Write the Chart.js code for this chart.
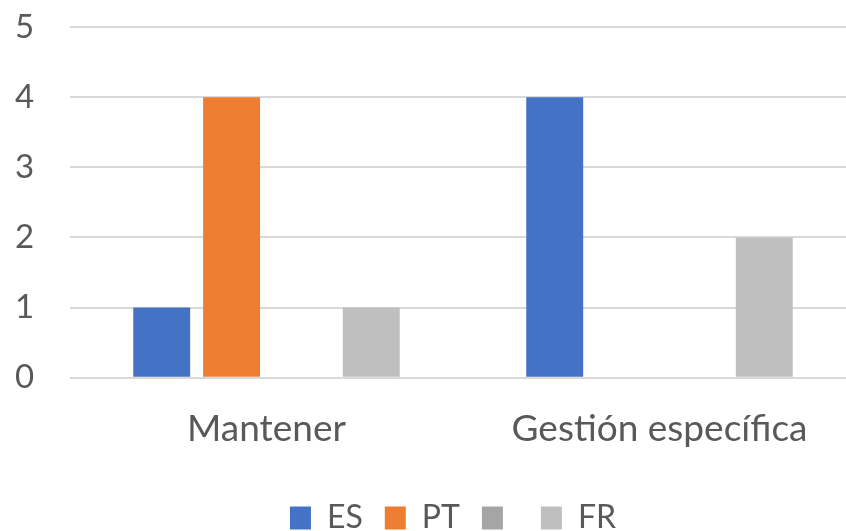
<!DOCTYPE html>
<html>
<head>
<meta charset="utf-8">
<script src="https://cdn.jsdelivr.net/npm/chart.js@4.4.1/dist/chart.umd.min.js"></script>
<style>
    html, body { margin: 0; padding: 0; background: #fff; overflow: hidden; }
    #wrap { width: 906px; height: 531px; }
</style>
</head>
<body>
<div id="wrap"><canvas id="chartCanvas"></canvas></div>
<script>
const categories = ['Mantener', 'Gestión específica'];
const seriesNames = ['ES', 'PT', '', 'FR'];
const esValues = [1, 4];
const ptValues = [4, 0];
const blankValues = [0, 0];
const frValues = [1, 2];
const yTicks = [0, 1, 2, 3, 4, 5];

const seriesColors = ['#4472C4', '#ED7D31', '#A5A5A5', '#BFBFBF'];
const textColor = '#595959';
const fontFamily = 'Lato, "Liberation Sans", sans-serif';

const allValues = [esValues, ptValues, blankValues, frValues];

const datasets = seriesNames.map((name, i) => ({
    label: name,
    data: allValues[i],
    backgroundColor: seriesColors[i],
    borderWidth: 0,
    categoryPercentage: 0.711,
    barPercentage: 0.815
}));

const ctx = document.getElementById('chartCanvas').getContext('2d');

new Chart(ctx, {
    type: 'bar',
    data: {
        labels: categories,
        datasets: datasets
    },
    options: {
        responsive: true,
        maintainAspectRatio: false,
        animation: false,
        layout: {
            padding: { top: 27, left: 50, right: 50, bottom: -13 }
        },
        plugins: {
            legend: {
                display: true,
                position: 'bottom',
                labels: {
                    color: textColor,
                    font: { family: fontFamily, size: 32 },
                    boxWidth: 21,
                    boxHeight: 23,
                    padding: 22
                }
            },
            tooltip: { enabled: false }
        },
        scales: {
            x: {
                grid: { display: false, drawTicks: false },
                border: { display: false },
                ticks: {
                    color: textColor,
                    font: { family: fontFamily, size: 37, lineHeight: 1.36 },
                    padding: 26
                }
            },
            y: {
                min: 0,
                max: 5,
                afterBuildTicks: axis => {
                    axis.ticks = yTicks.map(v => ({ value: v }));
                },
                afterFit: axis => {
                    axis.width = 20;
                    axis.paddingTop = 0;
                    axis.paddingBottom = 0;
                },
                grid: { color: '#D9D9D9', lineWidth: 2, drawTicks: false },
                border: { display: false },
                ticks: {
                    color: textColor,
                    font: { family: fontFamily, size: 33 },
                    // mirrored so the labels can sit left of the narrow axis box
                    mirror: true,
                    padding: -55
                }
            }
        }
    }
});
</script>
</body>
</html>
